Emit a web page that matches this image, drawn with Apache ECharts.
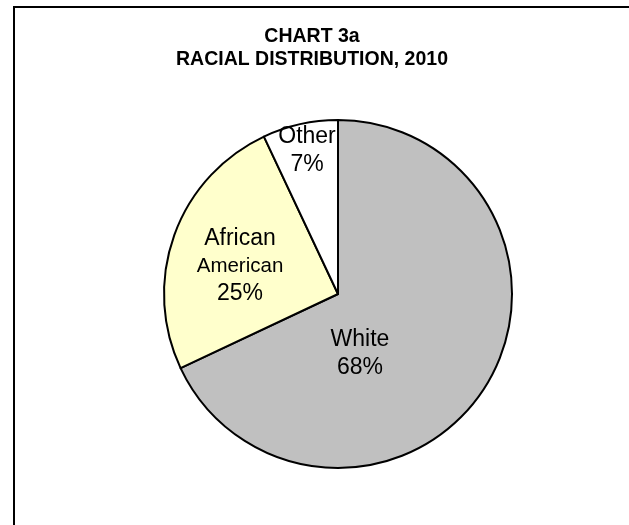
<!DOCTYPE html>
<html>
<head>
<meta charset="utf-8">
<script src="https://cdn.jsdelivr.net/npm/echarts@6/dist/echarts.min.js"></script>
<style>
  html, body { margin: 0; padding: 0; background: #fff; }
  #frame { position: absolute; left: 13px; top: 6px; width: 620px; height: 530px;
           border-left: 2px solid #000; border-top: 2px solid #000; box-sizing: border-box; }
  #chart { position: absolute; left: 0; top: 0; width: 629px; height: 525px; }
</style>
</head>
<body>
<div id="frame"></div>
<div id="chart"></div>
<script>
// Data
const categories = ["White", "African American", "Other"];
const values = [68, 25, 7];
const colors = ["#C0C0C0", "#FFFFCC", "#FFFFFF"];
const titleLines = ["CHART 3a", "RACIAL DISTRIBUTION, 2010"];
// label anchor positions (px)
const labelPos = [[360, 354], [240, 266], [307, 151]];

const chart = echarts.init(document.getElementById('chart'), null, { renderer: 'canvas' });

const data = categories.map((c, i) => ({
  name: c,
  value: values[i],
  itemStyle: { color: colors[i] }
}));

chart.setOption({
  backgroundColor: 'transparent',
  animation: false,
  title: {
    text: titleLines.join('\n'),
    left: 312,
    textAlign: 'center',
    top: 25,
    padding: 0,
    textStyle: {
      fontFamily: 'Liberation Sans, Arial, sans-serif',
      fontSize: 19.5,
      fontWeight: 'bold',
      lineHeight: 23,
      color: '#000'
    }
  },
  series: [{
    type: 'pie',
    center: [338, 294],
    radius: 174,
    startAngle: 90,
    clockwise: true,
    silent: true,
    data: data,
    itemStyle: { borderColor: '#000', borderWidth: 2 },
    label: {
      show: true,
      position: 'inside',
      fontFamily: 'Liberation Sans, Arial, sans-serif',
      color: '#000',
      formatter: function (p) {
        if (p.name === 'African American') {
          return '{a|African}\n{b|American}\n{a|' + p.value + '%}';
        }
        return '{a|' + p.name + '}\n{a|' + p.value + '%}';
      },
      rich: {
        a: { fontFamily: 'Liberation Sans, Arial, sans-serif', fontSize: 23, lineHeight: 28, color: '#000' },
        b: { fontFamily: 'Liberation Sans, Arial, sans-serif', fontSize: 20.5, lineHeight: 27, color: '#000' }
      }
    },
    labelLine: { show: false },
    labelLayout: function (params) {
      const pos = labelPos[params.dataIndex];
      return { x: pos[0], y: pos[1], align: 'center', verticalAlign: 'middle' };
    }
  }]
});
</script>
</body>
</html>
